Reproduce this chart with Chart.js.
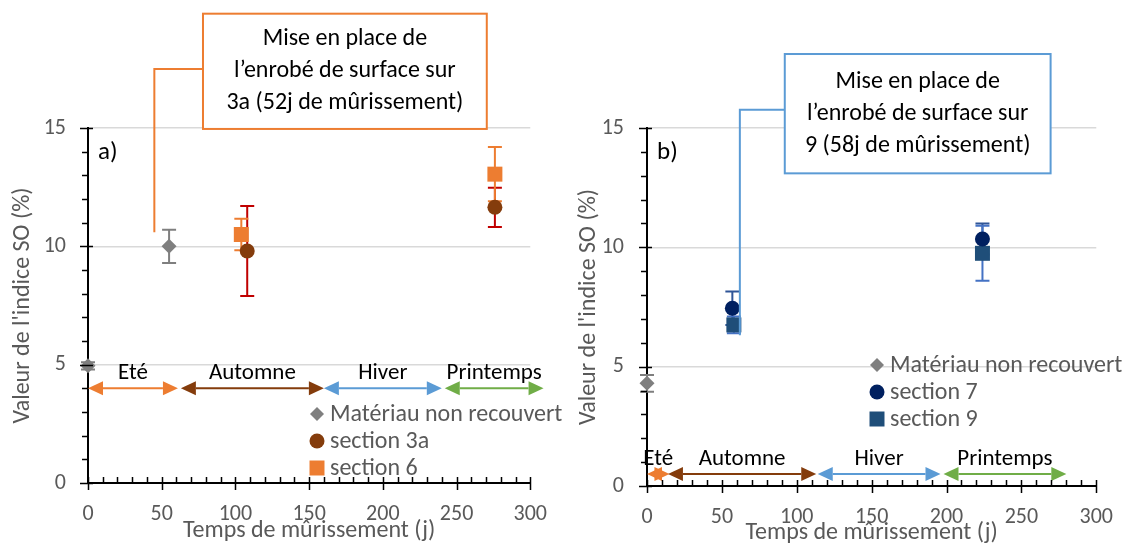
<!DOCTYPE html>
<html>
<head>
<meta charset="utf-8">
<script src="https://cdn.jsdelivr.net/npm/chart.js@4"></script>
<style>
  html, body { margin: 0; padding: 0; background: #fff; }
  #wrap { position: relative; width: 1131px; height: 547px; overflow: hidden; }
  #chartA { position: absolute; left: 0; top: 0; }
  #chartB { position: absolute; left: 565px; top: 0; }
</style>
</head>
<body>
<div id="wrap">
  <canvas id="chartA" width="565" height="547"></canvas>
  <canvas id="chartB" width="566" height="547"></canvas>
</div>
<script>
// a) sections 3a and 6
const xMateriauA = [0, 55];
const yMateriauA = [4.95, 10.0];
const errMateriauA = [0.15, 0.7];
const xSection3a = [108, 276];
const ySection3a = [9.8, 11.65];
const errSection3a = [1.9, 0.83];
const xSection6 = [104, 276];
const ySection6 = [10.5, 13.05];
const errSection6 = [0.67, 1.15];

// b) sections 7 and 9
const xMateriauB = [0];
const yMateriauB = [4.3];
const errMateriauB = [0.35];
const xSection7 = [57, 224];
const ySection7 = [7.45, 10.35];
const errSection7 = [0.7, 0.65];
const xSection9 = [58, 224];
const ySection9 = [6.75, 9.75];
const errSection9 = [0.35, 1.15];

// seasons along the time axis (days)
const seasonLabels = ['Eté', 'Automne', 'Hiver', 'Printemps'];
const seasonStartA = [0, 63, 160, 242];
const seasonEndA = [61, 160, 240, 309];
const seasonStartB = [0, 14, 114, 198];
const seasonEndB = [15, 113, 196, 280];

const FONT = "Carlito, Lato, 'Open Sans', sans-serif";
const GREY = '#595959';
const seasonColors = ['#ED7D31', '#843C0C', '#5B9BD5', '#70AD47'];

Chart.defaults.font.family = FONT;
Chart.defaults.color = GREY;

function drawMarker(ctx, style, x, y, r, color) {
  ctx.fillStyle = color;
  ctx.beginPath();
  if (style === 'rectRot') {
    ctx.moveTo(x, y - r); ctx.lineTo(x + r, y); ctx.lineTo(x, y + r); ctx.lineTo(x - r, y);
    ctx.closePath();
  } else if (style === 'rect') {
    const h = r * Math.SQRT1_2;
    ctx.rect(x - h, y - h, 2 * h, 2 * h);
  } else {
    ctx.arc(x, y, r, 0, Math.PI * 2);
  }
  ctx.fill();
}

function drawArrow(ctx, x1, x2, y, color) {
  const head = 15, half = 7;
  ctx.strokeStyle = color;
  ctx.fillStyle = color;
  ctx.lineWidth = 2;
  ctx.beginPath();
  ctx.moveTo(x1 + head, y); ctx.lineTo(x2 - head, y);
  ctx.stroke();
  ctx.beginPath();
  ctx.moveTo(x1, y); ctx.lineTo(x1 + head, y - half); ctx.lineTo(x1 + head, y + half);
  ctx.closePath(); ctx.fill();
  ctx.beginPath();
  ctx.moveTo(x2, y); ctx.lineTo(x2 - head, y - half); ctx.lineTo(x2 - head, y + half);
  ctx.closePath(); ctx.fill();
}

function makeChart(id, cfg) {
  const series = cfg.series;

  // error bars + season arrows, under the markers
  const underlay = {
    id: 'underlay',
    beforeDatasetsDraw(chart) {
      const { ctx, scales: { x, y } } = chart;
      ctx.save();
      chart.data.datasets.forEach((ds, i) => {
        const s = series[i];
        ds.data.forEach((p, j) => {
          const px = x.getPixelForValue(p.x);
          const top = y.getPixelForValue(p.y + s.err[j]);
          const bot = y.getPixelForValue(p.y - s.err[j]);
          ctx.strokeStyle = s.errColor;
          ctx.lineWidth = 2;
          ctx.beginPath();
          ctx.moveTo(px, top); ctx.lineTo(px, bot);
          ctx.moveTo(px - 7, top); ctx.lineTo(px + 7, top);
          ctx.moveTo(px - 7, bot); ctx.lineTo(px + 7, bot);
          ctx.stroke();
        });
      });
      const sy = y.getPixelForValue(cfg.seasonY);
      ctx.font = '23px ' + FONT;
      ctx.textAlign = 'center';
      ctx.textBaseline = 'middle';
      seasonLabels.forEach((lab, k) => {
        const x1 = x.getPixelForValue(cfg.seasonStart[k]);
        const x2 = x.getPixelForValue(cfg.seasonEnd[k]);
        drawArrow(ctx, x1, x2, sy, seasonColors[k]);
        ctx.fillStyle = '#000';
        ctx.fillText(lab, (x1 + x2) / 2, sy - 15);
      });
      ctx.restore();
    }
  };

  // tick marks, callout, legend, panel letter
  const overlay = {
    id: 'overlay',
    afterDraw(chart) {
      const { ctx, scales: { x, y }, chartArea: area } = chart;
      ctx.save();
      ctx.strokeStyle = '#000';
      ctx.lineWidth = 1.5;
      ctx.beginPath();
      y.ticks.forEach(t => {
        const py = Math.round(y.getPixelForValue(t.value)) + 0.5;
        if (t.value % 5 === 0) { ctx.moveTo(area.left - 8, py); ctx.lineTo(area.left + 5, py); }
        else { ctx.moveTo(area.left - 6, py); ctx.lineTo(area.left, py); }
      });
      x.ticks.forEach(t => {
        const px = Math.round(x.getPixelForValue(t.value)) + 0.5;
        if (t.value % 50 === 0) { ctx.moveTo(px, area.bottom - 6); ctx.lineTo(px, area.bottom + 7); }
        else { ctx.moveTo(px, area.bottom - 6); ctx.lineTo(px, area.bottom); }
      });
      ctx.stroke();

      // callout box with elbow leader
      const c = cfg.callout;
      const bx1 = x.getPixelForValue(c.x1), bx2 = x.getPixelForValue(c.x2);
      const by1 = y.getPixelForValue(c.y1), by2 = y.getPixelForValue(c.y2);
      const ly = y.getPixelForValue(c.leaderY);
      const lx = x.getPixelForValue(c.leaderX);
      const ey = y.getPixelForValue(c.endY);
      ctx.strokeStyle = c.color;
      ctx.lineWidth = 2;
      ctx.beginPath();
      ctx.moveTo(bx1, ly); ctx.lineTo(lx, ly); ctx.lineTo(lx, ey);
      ctx.stroke();
      ctx.fillStyle = '#fff';
      ctx.fillRect(bx1, by1, bx2 - bx1, by2 - by1);
      ctx.strokeRect(bx1, by1, bx2 - bx1, by2 - by1);
      ctx.fillStyle = '#000';
      ctx.font = '24px ' + FONT;
      ctx.textAlign = 'center';
      ctx.textBaseline = 'middle';
      const cy = (by1 + by2) / 2;
      c.lines.forEach((line, k) => {
        ctx.fillText(line, (bx1 + bx2) / 2, cy + (k - 1) * 32);
      });

      // legend
      const lg = cfg.legend;
      ctx.textAlign = 'left';
      ctx.font = '24px ' + FONT;
      series.forEach((s, i) => {
        const ry = lg.y + i * lg.dy;
        drawMarker(ctx, s.style, lg.x, ry, s.legendRadius, s.color);
        ctx.fillStyle = GREY;
        ctx.fillText(s.label, lg.x + 13, ry + 1);
      });

      // panel letter
      ctx.fillStyle = '#000';
      ctx.font = '25px ' + FONT;
      ctx.fillText(cfg.panel, area.left + 10, area.top + 25);
      ctx.restore();
    }
  };

  return new Chart(document.getElementById(id), {
    type: 'scatter',
    data: {
      datasets: series.map(s => ({
        label: s.label,
        data: s.x.map((v, i) => ({ x: v, y: s.y[i] })),
        pointStyle: s.style,
        pointRadius: s.radius,
        pointHoverRadius: s.radius,
        backgroundColor: s.color,
        borderColor: s.color,
        borderWidth: 0,
        clip: false
      }))
    },
    options: {
      responsive: false,
      animation: false,
      events: [],
      layout: { padding: cfg.padding },
      plugins: { legend: { display: false }, tooltip: { enabled: false } },
      scales: {
        x: {
          type: 'linear', min: 0, max: 300,
          afterFit(scale) { scale.height = cfg.xHeight; },
          border: { color: '#000', width: 2 },
          grid: { drawOnChartArea: false, drawTicks: false },
          ticks: {
            stepSize: 10, autoSkip: false, maxRotation: 0, padding: cfg.xTickPad,
            font: { size: 22 }, color: GREY,
            callback: v => (v % 50 === 0 ? String(v) : '')
          },
          title: {
            display: true, text: 'Temps de mûrissement (j)', color: GREY,
            font: { size: 24 }, padding: { top: 0, bottom: cfg.xTitlePad }
          }
        },
        y: {
          min: 0, max: 15,
          afterFit(scale) { scale.width = cfg.yWidth; },
          border: { color: '#000', width: 2 },
          grid: {
            drawTicks: false, lineWidth: 1.5,
            color: c => (c.tick && c.tick.value % 5 === 0 && c.tick.value > 0 ? '#D9D9D9' : 'rgba(0,0,0,0)')
          },
          ticks: {
            stepSize: 1, autoSkip: false, padding: cfg.yTickPad,
            font: { size: 22 }, color: GREY,
            callback: v => (v % 5 === 0 ? String(v) : '')
          },
          title: {
            display: true, text: "Valeur de l'indice SO (%)", color: GREY,
            font: { size: 24 }, padding: { top: cfg.yTitlePad, bottom: 0 }
          }
        }
      }
    },
    plugins: [underlay, overlay]
  });
}

makeChart('chartA', {
  panel: 'a)',
  padding: { left: 0, top: 128, right: 31, bottom: 0 },
  yWidth: 88, xHeight: 64, yTickPad: 22, xTickPad: 18, yTitlePad: 9, xTitlePad: 1.5,
  seasonY: 4.0, seasonStart: seasonStartA, seasonEnd: seasonEndA,
  series: [
    { label: 'Matériau non recouvert', x: xMateriauA, y: yMateriauA, err: errMateriauA,
      style: 'rectRot', radius: 7.5, legendRadius: 7, color: '#7F7F7F', errColor: '#7F7F7F' },
    { label: 'section 3a', x: xSection3a, y: ySection3a, err: errSection3a,
      style: 'circle', radius: 7.5, legendRadius: 7.5, color: '#843C0C', errColor: '#C00000' },
    { label: 'section 6', x: xSection6, y: ySection6, err: errSection6,
      style: 'rect', radius: 10.6, legendRadius: 10.6, color: '#ED7D31', errColor: '#ED7D31' }
  ],
  legend: { x: 317, y: 414, dy: 27 },
  callout: {
    x1: 78, x2: 270.5, y1: 19.83, y2: 14.96, leaderY: 17.49, leaderX: 45, endY: 10.6,
    color: '#ED7D31',
    lines: ['Mise en place de', 'l\u2019enrobé de surface sur', '3a (52j de mûrissement)']
  }
});

makeChart('chartB', {
  panel: 'b)',
  padding: { left: 0, top: 128, right: 29, bottom: 0 },
  yWidth: 82, xHeight: 61, yTickPad: 23, xTickPad: 18, yTitlePad: 10, xTitlePad: 0,
  seasonY: 0.5, seasonStart: seasonStartB, seasonEnd: seasonEndB,
  series: [
    { label: 'Matériau non recouvert', x: xMateriauB, y: yMateriauB, err: errMateriauB,
      style: 'rectRot', radius: 7.5, legendRadius: 7, color: '#7F7F7F', errColor: '#7F7F7F' },
    { label: 'section 7', x: xSection7, y: ySection7, err: errSection7,
      style: 'circle', radius: 7.5, legendRadius: 7.5, color: '#002060', errColor: '#2F5597' },
    { label: 'section 9', x: xSection9, y: ySection9, err: errSection9,
      style: 'rect', radius: 10.6, legendRadius: 10.6, color: '#1F4E79', errColor: '#4472C4' }
  ],
  legend: { x: 312, y: 365, dy: 27 },
  callout: {
    x1: 92, x2: 269.5, y1: 18.1, y2: 13.1, leaderY: 15.76, leaderX: 62, endY: 6.32,
    color: '#5B9BD5',
    lines: ['Mise en place de', 'l\u2019enrobé de surface sur', '9 (58j de mûrissement)']
  }
});
</script>
</body>
</html>
